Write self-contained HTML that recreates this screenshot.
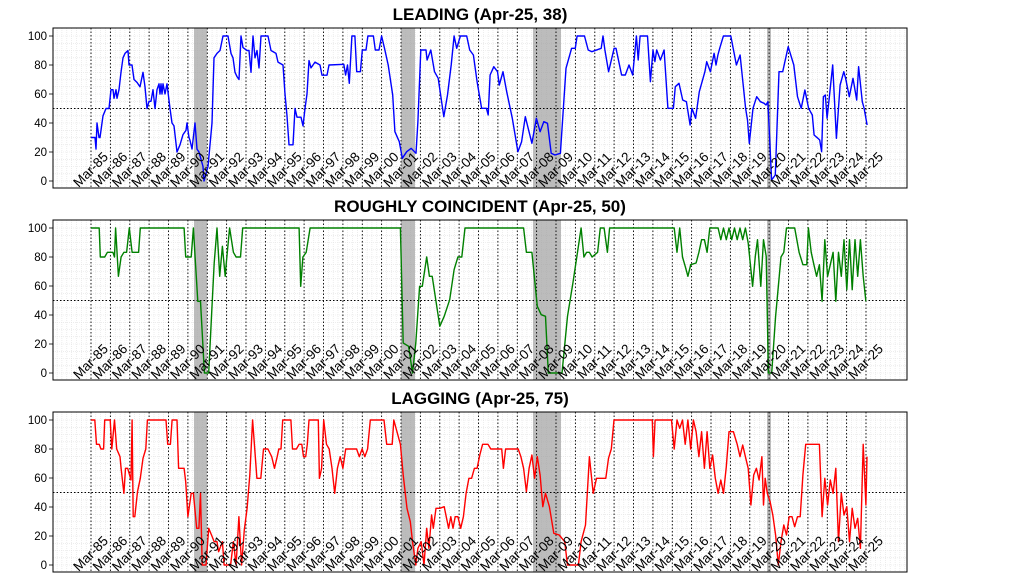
<!DOCTYPE html>
<html><head><meta charset="utf-8">
<style>
html,body{margin:0;padding:0;background:#fff;}
svg{display:block;font-family:"Liberation Sans","DejaVu Sans",sans-serif;}
</style></head>
<body>
<svg id="s" width="1024" height="585" xmlns="http://www.w3.org/2000/svg"></svg>
<script>
const S=document.getElementById('s');
const NS='http://www.w3.org/2000/svg';
function el(t,a,txt){const e=document.createElementNS(NS,t);for(const k in a)e.setAttribute(k,a[k]);if(txt!==undefined)e.textContent=txt;S.appendChild(e);return e;}
const X0=53,X1=907;
const panels=[{top:28,title:'LEADING (Apr-25, 38)',color:'#0000ff'},
{top:220,title:'ROUGHLY COINCIDENT (Apr-25, 50)',color:'#008000'},
{top:412,title:'LAGGING (Apr-25, 75)',color:'#ff0000'}];
const rec=[[194,207],[401,415],[533,561],[767,771]];
const L1=[[91,30],[95,30],[96,22],[97,40],[99,30],[100,30],[103,45],[106,50],[109,50],[111,63],[113,63],[114,57],[116,63],[117,57],[119,63],[121,75],[123,85],[125,88],[128,90],[129,80],[132,80],[134,70],[137,68],[140,65],[143,75],[145,65],[147,50],[149,55],[151,55],[153,63],[155,50],[157,63],[159,67],[160,60],[161,67],[162,60],[163,67],[165,60],[167,67],[170,50],[172,40],[174,38],[177,20],[180,25],[183,32],[186,35],[187,40],[189,30],[190,28],[192,22],[195,40],[197,22],[199,20],[201,15],[203,10],[204,0],[206,5],[208,10],[210,25],[212,40],[214,85],[217,88],[220,90],[223,100],[228,100],[231,88],[233,85],[235,75],[237,72],[239,70],[241,100],[243,92],[247,90],[249,90],[251,75],[253,100],[255,85],[257,90],[259,78],[261,100],[268,100],[271,90],[276,88],[278,82],[283,80],[285,60],[287,45],[289,25],[293,25],[295,50],[297,44],[301,44],[303,38],[305,50],[307,60],[309,83],[311,78],[313,80],[315,82],[320,80],[322,73],[327,73],[329,80]];
const L3=[0,118,40,118,45,150,50,120,55,175,62,30,70,30,75,140,85,140,90,75,100,75,105,30,120,30,125,75,135,75,142,30,150,70,160,120,172,210,178,320,190,350,198,400,210,380,222,370,235,385,240,290,248,75,262,75,265,105,275,75,285,140,295,160,310,275,320,210,330,120,338,30,345,70,355,30,372,30,380,75,390,90,400,170,412,250,425,250,430,270,435,150,445,125,455,140,460,180,470,140,480,200,495,280,510,380,520,350,530,275,548,355,560,280,570,320,580,290,590,295,600,385,610,390,625,385,640,130,655,70,665,70,670,30,690,30,700,75,710,80,735,70,740,30,745,75,755,140,770,70,775,70,790,150,800,150,810,120,820,150,830,30,835,105,840,30,860,30,868,170,875,75,880,110,885,75,895,105,905,75,915,250,930,250,935,185,945,175,955,225,965,230,975,300,980,250,990,280,1000,200,1015,140,1020,110,1030,140,1040,85,1045,120,1050,90,1055,70,1065,30,1085,30,1100,120,1110,90,1125,250,1130,285,1135,355,1145,250,1155,215,1165,230,1175,235,1180,240,1185,230,1195,465,1205,450,1215,140,1225,140,1240,65,1255,120,1265,215,1275,250,1285,195,1295,250,1305,270,1310,330,1320,340,1325,345,1330,380,1335,215,1340,210,1345,280,1360,120,1370,340,1380,180,1390,140,1395,160,1405,215,1415,160,1425,225,1430,125,1440,230,1445,250,1453,300];
const G=[75,35,90,35,92,122,100,122,105,108,115,108,118,122,120,35,123,122,125,180,130,122,135,108,140,108,145,35,150,108,162,108,165,35,245,35,248,122,258,122,262,35,265,122,270,255,275,255,282,470,290,470,295,300,300,140,305,35,310,180,315,90,320,180,322,140,328,35,335,108,340,122,348,122,352,35,455,35,458,210,462,122,468,108,475,35,640,35,645,380,655,390,662,470,668,380,675,210,680,210,688,122,693,180,698,180,705,255,712,330,720,300,730,250,738,160,745,122,752,122,758,35,865,35,870,108,880,108,890,270,897,295,905,300,910,470,935,470,945,300,955,200,962,122,970,35,975,122,980,108,985,108,990,122,1000,108,1005,35,1012,35,1018,108,1022,35,1140,35,1145,108,1150,35,1155,122,1160,150,1165,180,1170,145,1180,140,1185,108,1190,70,1195,70,1200,108,1205,35,1220,35,1225,70,1230,35,1235,70,1240,35,1245,70,1250,35,1255,70,1260,35,1265,70,1270,35,1275,80,1283,210,1288,120,1292,70,1298,210,1303,70,1308,120,1312,470,1318,470,1325,300,1335,122,1340,108,1345,35,1360,35,1368,108,1375,145,1382,145,1385,35,1390,108,1395,145,1400,180,1405,145,1410,255,1415,70,1420,180,1425,145,1430,108,1435,255,1440,108,1445,180,1450,70,1455,220,1460,70,1465,220,1470,70,1475,180,1480,70,1485,180,1490,255];
const R=[75,35,82,35,85,108,90,108,93,122,98,122,100,35,110,35,113,122,118,35,122,122,128,145,130,180,135,255,138,180,142,180,148,215,150,35,152,325,155,325,160,250,165,210,170,150,175,122,178,35,212,35,215,108,220,108,223,35,232,35,235,180,245,180,248,220,252,325,258,255,262,255,268,360,272,360,275,255,278,470,285,470,290,360,295,380,300,400,305,400,308,430,315,400,318,470,330,470,335,400,340,470,345,325,350,470,355,365,360,300,365,200,370,35,378,210,385,210,390,122,398,122,405,145,410,180,415,145,418,122,422,122,425,35,440,35,443,122,450,122,455,108,460,108,463,145,467,145,470,108,473,35,490,35,492,210,496,180,500,35,505,108,510,122,515,180,520,255,525,180,530,145,535,180,540,122,560,122,565,145,570,122,575,145,580,122,585,35,610,35,615,108,625,108,628,35,640,108,645,200,652,300,658,340,662,400,668,470,672,420,678,400,683,470,688,360,692,420,697,320,700,360,705,300,712,300,720,295,728,360,732,325,736,360,740,325,745,325,750,360,755,325,760,255,765,210,770,210,775,180,780,180,785,140,790,108,800,108,805,122,825,122,828,180,832,122,855,122,860,145,865,180,870,250,875,180,880,140,885,210,890,145,895,200,900,295,905,255,912,295,920,375,930,380,940,400,945,470,965,470,970,400,978,350,985,145,992,255,998,210,1015,210,1020,150,1025,122,1030,35,1100,35,1102,145,1105,35,1135,35,1140,122,1145,35,1150,60,1155,35,1160,108,1165,35,1170,122,1175,35,1180,70,1185,145,1190,70,1195,180,1200,70,1205,180,1210,140,1215,210,1220,255,1225,215,1230,255,1235,175,1240,70,1248,70,1255,108,1260,145,1265,110,1270,145,1275,180,1280,290,1285,200,1290,180,1295,215,1300,145,1303,290,1306,210,1310,255,1315,280,1320,320,1325,380,1330,470,1335,400,1340,350,1345,380,1350,325,1355,325,1360,355,1365,325,1370,325,1375,200,1380,108,1405,108,1410,325,1415,210,1420,290,1425,215,1430,255,1435,180,1440,400,1445,255,1450,320,1455,295,1460,400,1465,300,1470,360,1475,330,1480,420,1485,108,1490,290,1492,145];

function yv(p,v){return p.top+8+(100-v)*1.45;}
function cl(v){return Math.max(0,Math.min(100,v));}
const lead=[];
L1.forEach(([x,v])=>lead.push([x,yv(panels[0],v)]));
for(let i=0;i<L3.length;i+=2){const x=866-(1450-L3[i])/2.70;if(x<=330)continue;const v=(468-L3[i+1])/4.35;lead.push([x,yv(panels[0],cl(v))]);}
function fromZoom(arr,p){const out=[];for(let i=0;i<arr.length;i+=2){const x=91+(arr[i]-75)/1.826;const v=(470-arr[i+1])/4.35;out.push([x,yv(p,cl(v))]);}return out;}
const coin=fromZoom(G,panels[1]);
const lag=fromZoom(R,panels[2]);
const series=[lead,coin,lag];

panels.forEach((p,pi)=>{
  const t=p.top,b=t+160;
  let d='';
  for(let x=91;x<X1;x+=19.375/4){d+=`M${x.toFixed(1)} ${t}V${b}`;}
  for(let x=91-19.375/4;x>X0;x-=19.375/4){d+=`M${x.toFixed(1)} ${t}V${b}`;}
  for(let v=0;v<=100;v+=5){const y=yv(p,v);d+=`M${X0} ${y.toFixed(1)}H${X1}`;}
  el('path',{d:d,stroke:'#e2e2e2','stroke-width':0.6,'stroke-dasharray':'1,1',fill:'none'});
  rec.forEach(r=>el('rect',{x:r[0],y:t,width:r[1]-r[0],height:160,fill:'#a0a0a0','fill-opacity':0.7}));
  let dm='';
  for(let i=0;i<=40;i++){const x=91+19.375*i;dm+=`M${x.toFixed(1)} ${t}V${b}`;}
  el('path',{d:dm,stroke:'#000','stroke-width':0.9,'stroke-dasharray':'1.5,2',fill:'none'});
  el('line',{x1:X0,x2:X1,y1:yv(p,50),y2:yv(p,50),stroke:'#000','stroke-width':0.9,'stroke-dasharray':'1.5,2'});
  el('polyline',{points:series[pi].map(q=>q[0].toFixed(1)+','+q[1].toFixed(1)).join(' '),fill:'none',stroke:p.color,'stroke-width':1.4,'stroke-linejoin':'round'});
  el('rect',{x:X0,y:t,width:X1-X0,height:160,fill:'none',stroke:'#000','stroke-width':1});
  for(let v=0;v<=100;v+=20){const y=yv(p,v);el('line',{x1:X0-4,x2:X0,y1:y,y2:y,stroke:'#000','stroke-width':0.8});
    el('text',{x:X0-6,y:y+4,'text-anchor':'end','font-size':11.5,fill:'#000'},String(v));}
  for(let i=0;i<=40;i++){const x=91+19.375*i;const yr=(85+i)%100;const lab='Mar-'+String(yr).padStart(2,'0');
    el('text',{x:x,y:t+146,'text-anchor':'middle','font-size':13.5,fill:'#000',transform:`rotate(-45 ${x} ${t+142})`},lab);}
  el('text',{x:480,y:t-8,'text-anchor':'middle','font-size':17,'font-weight':'bold',fill:'#000'},p.title);
});
</script>
</body></html>
